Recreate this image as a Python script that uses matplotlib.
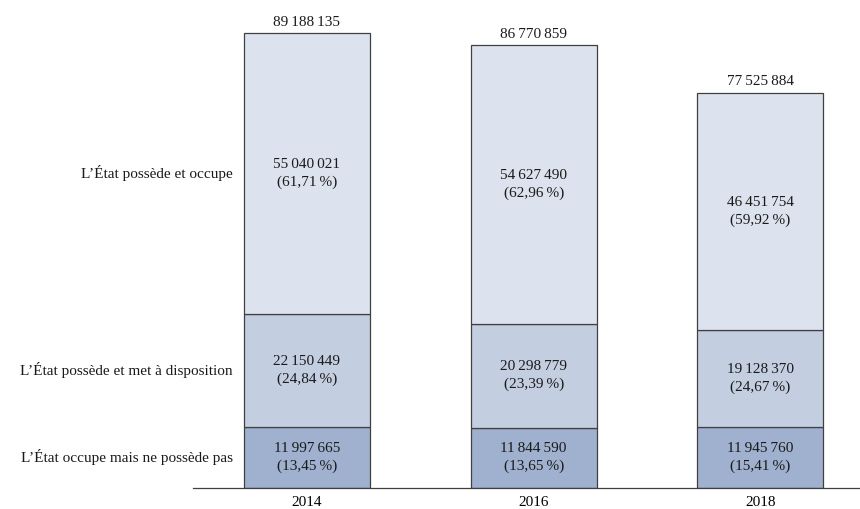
import matplotlib
matplotlib.use("Agg")
import matplotlib.pyplot as plt
import numpy as np

plt.rcParams['font.family'] = ['Liberation Serif', 'DejaVu Serif']

years = ["2014", "2016", "2018"]
categories = ["L\u2019État occupe mais ne possède pas",
              "L\u2019État possède et met à disposition",
              "L\u2019État possède et occupe"]
occupe_ne_possede_pas = [11997665, 11844590, 11945760]
possede_met_disposition = [22150449, 20298779, 19128370]
possede_occupe = [55040021, 54627490, 46451754]
totals = [89188135, 86770859, 77525884]
pct_occupe_ne_possede_pas = ["13,45", "13,65", "15,41"]
pct_possede_met_disposition = ["24,84", "23,39", "24,67"]
pct_possede_occupe = ["61,71", "62,96", "59,92"]

series = [occupe_ne_possede_pas, possede_met_disposition, possede_occupe]
pcts = [pct_occupe_ne_possede_pas, pct_possede_met_disposition, pct_possede_occupe]
colors = ["#9fb1cf", "#c4cee1", "#dde3ee"]

def fmt(n):
    return f"{n:,}".replace(",", "\u2009")

W, H = 860, 509
fig = plt.figure(figsize=(W / 100, H / 100), dpi=100)
ax = fig.add_axes([193 / W, (H - 488) / H, (860 - 193) / W, (488 - 10) / H])

x = np.arange(len(years))
bw = 0.556
bottoms = np.zeros(len(years))
for vals, col, pc in zip(series, colors, pcts):
    vals = np.array(vals, dtype=float)
    ax.bar(x, vals, bw, bottom=bottoms, color=col, edgecolor="#404040", linewidth=0.9)
    for i in range(len(years)):
        ax.text(x[i], bottoms[i] + vals[i] / 2, f"{fmt(int(vals[i]))}\n({pc[i]}\u2009%)",
                ha="center", va="center", fontsize=11, linespacing=1.45, color="#1a1a1a")
    bottoms += vals

for i in range(len(years)):
    ax.annotate(fmt(totals[i]), (x[i], totals[i]), xytext=(0, 3), textcoords="offset points",
                ha="center", va="bottom", fontsize=11, color="#1a1a1a")

# category labels at the left, aligned with the 2014 segments
b = 0.0
for vals, cat in zip(series, categories):
    ax.text(-0.327, b + vals[0] / 2, cat, ha="right", va="center",
            fontsize=11, color="#1a1a1a", transform=ax.transData, clip_on=False)
    b += vals[0]

ax.set_xlim(-0.503, 2.44)
ax.set_ylim(0, 478 / 5.10 * 1e6)
ax.set_xticks(x)
ax.set_xticklabels(years, fontsize=11)
ax.tick_params(axis="x", length=0, pad=6)
ax.set_yticks([])
for s in ["top", "right", "left"]:
    ax.spines[s].set_visible(False)
ax.spines["bottom"].set_color("#404040")
ax.spines["bottom"].set_linewidth(0.9)

fig.savefig("out.png", dpi=100)
